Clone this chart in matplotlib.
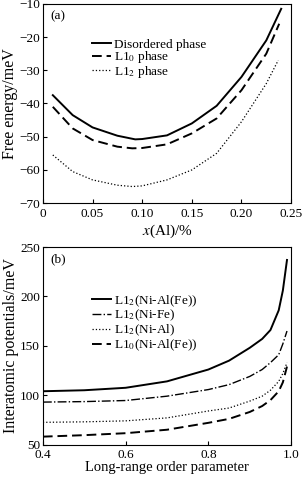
import matplotlib.pyplot as plt

plt.rcParams['font.family'] = ['Liberation Serif', 'DejaVu Serif']
plt.rcParams['mathtext.fontset'] = 'stix'

# (a) free energy vs Al content
xa = [0.01, 0.03, 0.05, 0.075, 0.093, 0.10, 0.125, 0.15, 0.175, 0.20, 0.225, 0.24]
disordered = [-37.5, -43.5, -47.2, -49.7, -50.8, -50.7, -49.6, -46.0, -40.7, -32.0, -21.0, -11.5]
xb_l10 = [0.01, 0.03, 0.05, 0.075, 0.09, 0.10, 0.125, 0.15, 0.175, 0.20, 0.225, 0.238]
l10 = [-41.0, -47.5, -51.0, -53.0, -53.5, -53.4, -52.3, -49.0, -44.5, -36.0, -25.0, -16.0]
xc_l12 = [0.01, 0.03, 0.05, 0.075, 0.09, 0.10, 0.125, 0.15, 0.175, 0.20, 0.225, 0.237]
l12 = [-55.5, -60.5, -63.0, -64.6, -65.0, -64.8, -63.0, -60.0, -55.0, -45.5, -34.0, -27.0]

# (b) interatomic potentials vs long-range order parameter
s = [0.4, 0.5, 0.6, 0.7, 0.8, 0.85, 0.9, 0.93, 0.95, 0.97, 0.98, 0.99]
ni_al_fe = [104, 105, 107.5, 114, 126, 135, 148, 157, 166, 186, 206, 237]
ni_fe = [93, 93.5, 94.6, 99, 105.7, 110.7, 119, 126, 133, 141, 152, 165]
ni_al = [72.5, 73, 74, 77, 84, 87, 94, 99, 105, 114, 122, 133]
l10_ni_al_fe = [58, 59.5, 61.5, 65, 72, 76, 83, 89, 95, 104, 113, 129]

fig = plt.figure(figsize=(3.02, 4.78), dpi=100)
ax1 = fig.add_axes([0.142, 0.575, 0.822, 0.417])
ax2 = fig.add_axes([0.142, 0.070, 0.822, 0.413])

ax1.plot(xa, disordered, 'k-', lw=1.4, label='Disordered phase')
ax1.plot(xb_l10, l10, 'k--', lw=1.4, dashes=(5, 2.5), label=r'L1$_0$ phase')
ax1.plot(xc_l12, l12, 'k:', lw=0.9, label=r'L1$_2$ phase')
ax1.set_xlim(0, 0.25)
ax1.set_ylim(-70, -10)
ax1.set_xticks([0, 0.05, 0.10, 0.15, 0.20, 0.25])
ax1.set_xticklabels(['0', '0.05', '0.10', '0.15', '0.20', '0.25'])
ax1.set_yticks([-70, -60, -50, -40, -30, -20, -10])
ax1.set_xlabel(r'$x$(Al)/%', fontsize=11, labelpad=2)
ax1.set_ylabel('Free energy/meV', fontsize=11.5, labelpad=1)
ax1.text(0.03, 0.97, '(a)', transform=ax1.transAxes, fontsize=9.5, va='top')
ax1.legend(loc='upper left', bbox_to_anchor=(0.17, 0.86), frameon=False,
           fontsize=9.5, handlelength=1.5, handletextpad=0.2, labelspacing=-0.1,
           borderpad=0)

ax2.plot(s, ni_al_fe, 'k-', lw=1.4, label=r'L1$_2$(Ni-Al(Fe))')
ax2.plot(s, ni_fe, 'k-.', lw=1.0, label=r'L1$_2$(Ni-Fe)')
ax2.plot(s, ni_al, 'k:', lw=0.9, label=r'L1$_2$(Ni-Al)')
ax2.plot(s, l10_ni_al_fe, 'k--', lw=1.4, dashes=(5, 2.5), label=r'L1$_0$(Ni-Al(Fe))')
ax2.set_xlim(0.4, 1.0)
ax2.set_ylim(50, 250)
ax2.set_xticks([0.4, 0.6, 0.8, 1.0])
ax2.set_yticks([50, 100, 150, 200, 250])
ax2.set_xlabel('Long-range order parameter', fontsize=10.5, labelpad=0)
ax2.set_ylabel('Interatomic potentials/meV', fontsize=11.5, labelpad=1)
ax2.text(0.03, 0.97, '(b)', transform=ax2.transAxes, fontsize=9.5, va='top')
ax2.legend(loc='upper left', bbox_to_anchor=(0.17, 0.80), frameon=False,
           fontsize=9.5, handlelength=1.5, handletextpad=0.2, labelspacing=-0.05,
           borderpad=0)

for ax in (ax1, ax2):
    ax.tick_params(direction='in', length=3, width=0.8, labelsize=9.5)
    ax.tick_params(axis='x', pad=3.5)
    ax.tick_params(axis='y', pad=2)
    for sp in ax.spines.values():
        sp.set_linewidth(0.8)

fig.savefig('out.png', dpi=100)
